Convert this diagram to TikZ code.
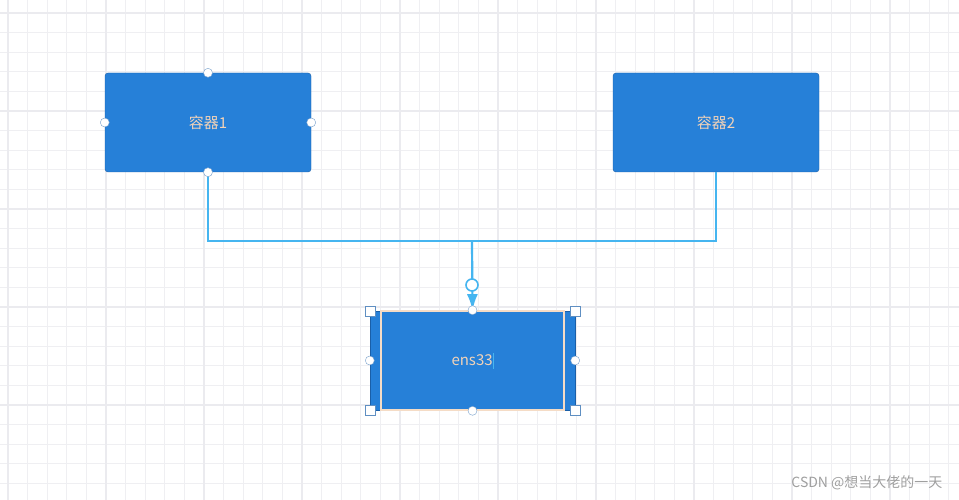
\documentclass[tikz,border=0pt]{standalone}
\usepackage{fontspec}
\setmainfont{Noto Sans CJK SC}
\usetikzlibrary{positioning,arrows.meta}
\definecolor{boxblue}{HTML}{2680D8}
\definecolor{boxedge}{HTML}{1A5FA8}
\definecolor{linkblue}{HTML}{45B5F0}
\definecolor{labeltxt}{HTML}{F2D3B8}
\definecolor{gridc}{HTML}{EFEFF2}
\definecolor{gridmaj}{HTML}{EBEBEF}
\begin{document}
\begin{tikzpicture}[x=1pt,y=-1pt,
    box/.style={draw=boxedge, fill=boxblue, rounded corners=3pt, minimum width=206pt, minimum height=99pt, inner sep=0pt, text=labeltxt, font=\fontsize{15}{18}\selectfont},
    handle/.style={circle, draw=boxedge!60, fill=white, inner sep=0pt, minimum size=9pt},
    sqhandle/.style={draw=boxedge!70, fill=white, inner sep=0pt, minimum size=10pt},
    link/.style={draw=linkblue, line width=2.2pt}]
  \useasboundingbox (0,0) rectangle (959,500);
  \fill[white] (0,0) rectangle (959,500);
  % grid
  \foreach \i in {0,...,48} {
    \draw[gridc, line width=1pt] (8+19.6*\i,0) -- (8+19.6*\i,500);
  }
  \foreach \j in {0,...,25} {
    \draw[gridc, line width=1pt] (0,13+19.6*\j) -- (959,13+19.6*\j);
  }
  \foreach \i in {0,...,9} {
    \draw[gridmaj, line width=1.3pt] (8+98*\i,0) -- (8+98*\i,500);
  }
  \foreach \j in {0,...,5} {
    \draw[gridmaj, line width=1.3pt] (0,13+98*\j) -- (959,13+98*\j);
  }
  % boxes
  \node[box] (c1) at (208,122.5) {容器1};
  \node[box] (c2) at (716,122.5) {容器2};
  \node[box, minimum width=205pt, rounded corners=0pt] (ens) at (472.5,360.5) {};
  \node[draw=labeltxt!80!white, line width=1.6pt, fill=boxblue, minimum width=183pt, minimum height=99pt, inner sep=0pt, text=labeltxt, font=\fontsize{15}{18}\selectfont] (ensin) at (472.5,360.5) {ens33\textcolor{linkblue}{\rule[-3pt]{0.8pt}{16pt}}};
  % connectors
  \coordinate (j1) at (208,241);
  \coordinate (j2) at (716,241);
  \coordinate (jm) at (472,241);
  \draw[link] (c1.south) -- (j1) -- (j2) -- (c2.south);
  \draw[link, -{Latex[length=16pt,width=11pt]}] (jm) -- (ensin.north);
  \node[circle, draw=linkblue, fill=white, line width=1.6pt, inner sep=0pt, minimum size=12pt] (knob) at (472,285) {};
  % handles
  \node[handle] (h1) at (c1.north) {};
  \node[handle] (h2) at (c1.south) {};
  \node[handle] (h3) at (c1.west) {};
  \node[handle] (h4) at (c1.east) {};
  \node[handle] (h5) at (ensin.north) {};
  \node[handle] (h6) at (ensin.south) {};
  \node[handle] (h7) at (ens.west) {};
  \node[handle] (h8) at (ens.east) {};
  \node[sqhandle] (s1) at (ens.north west) {};
  \node[sqhandle] (s2) at (ens.north east) {};
  \node[sqhandle] (s3) at (ens.south west) {};
  \node[sqhandle] (s4) at (ens.south east) {};
  % watermark
  \node[text=gray!75, font=\fontsize{14}{16}\selectfont, anchor=east] (mark) at (946,483) {CSDN @想当大佬的一天};
\end{tikzpicture}
\end{document}
